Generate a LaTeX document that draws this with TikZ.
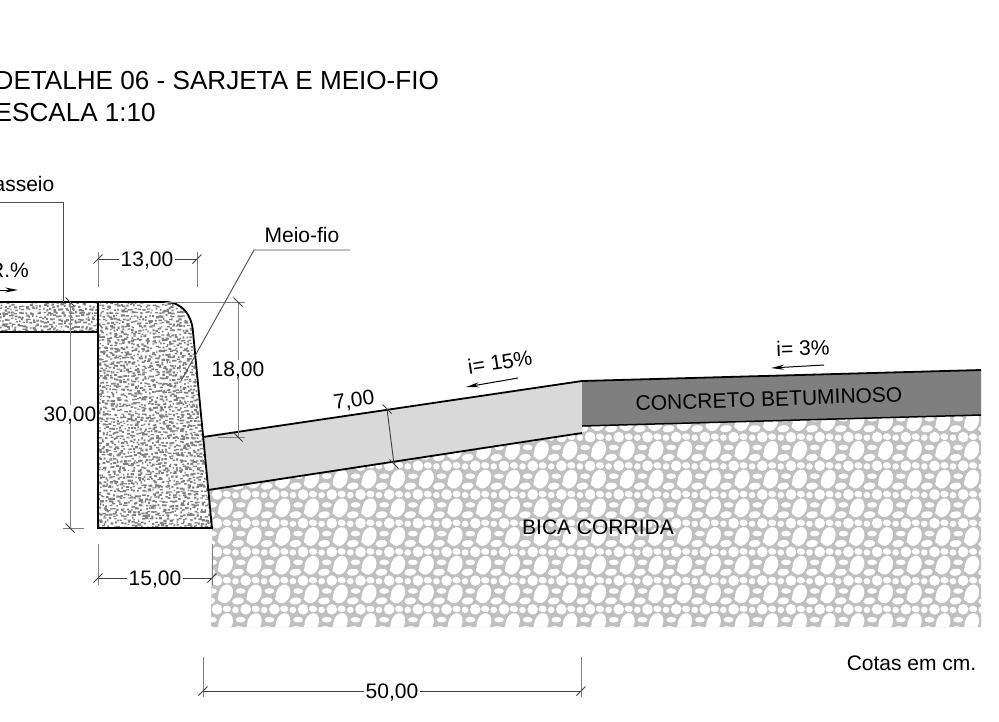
\documentclass[tikz,border=0pt]{standalone}
\usepackage{fontspec}
\setmainfont{Liberation Sans}
\usetikzlibrary{arrows.meta}
\definecolor{brita}{HTML}{C0C0C0}
\definecolor{guia}{HTML}{808080}
\definecolor{sarjeta}{HTML}{D9D9D9}
\definecolor{asfalto}{HTML}{7F7F7F}
\tikzset{
    rotulo/.style={inner sep=1.5pt,font=\fontsize{21}{25}\selectfont,text=black},
    numero/.style={rotulo,text depth=0pt},
    titulo/.style={inner sep=0pt,anchor=west,font=\fontsize{26.1}{30}\selectfont,text=black},
    perfil/.style={draw=black,line width=1.8pt,line join=miter},
    extensao/.style={draw=guia,line width=1pt},
    cota/.style={draw=black!75,line width=0.9pt},
    marca/.style={draw=black!75,line width=0.9pt},
    chamada/.style={draw=black!70,line width=0.9pt},
    caimento/.style={draw=black,line width=1pt,-{Stealth[length=13pt,width=5pt]}}
}
\begin{document}
\begin{tikzpicture}[x=1pt,y=-1pt]
    \useasboundingbox (0,0) rectangle (999,721);
    \fill[white] (0,0) rectangle (999,721);
    % pontos do perfil
    \coordinate (g1) at (203,437);
    \coordinate (g2) at (582,381);
    \coordinate (g3) at (582,433);
    \coordinate (g4) at (208,490);
    \coordinate (a1) at (981,370);
    \coordinate (a2) at (981,415);
    \coordinate (a3) at (582,426);
    \coordinate (c1) at (98,302);
    \coordinate (c2) at (212,528);
    \coordinate (c3) at (98,528);
    % brita
    \begin{scope}
        \clip (g4) -- (g3) -- (a3) -- (a2) -- (981,627) -- (211,627) -- (c2) -- cycle;
        \fill[brita] (200,370) rectangle (990,630);
        \foreach \ix in {0,...,27}
            \foreach \iy in {0,...,9}{
                \begin{scope}[shift={(197+\ix*28.7,393+\iy*28.7)}]
                    \fill[white] (0,0) ellipse[x radius=6.9,y radius=9.7,rotate=-20];
                    \fill[white] (20,15.4) circle (5.3);
                    \fill[white] (12.3,7) ellipse[x radius=6,y radius=3.4,rotate=8];
                    \fill[white] (15,-2.9) ellipse[x radius=4.9,y radius=2.8];
                    \fill[white] (1.2,15) ellipse[x radius=4.1,y radius=3.3,rotate=-10];
                    \fill[white] (9.8,16) ellipse[x radius=3.3,y radius=3.2];
                    \fill[white] (22.5,4.5) ellipse[x radius=1.8,y radius=2.4];
                \end{scope}
            }
    \end{scope}
    % sarjeta e concreto betuminoso
    \fill[sarjeta] (g1) -- (g2) -- (g3) -- (g4) -- cycle;
    \fill[asfalto] (g2) -- (a1) -- (a2) -- (a3) -- cycle;
    % guia e passeio
    \pgfmathsetseed{7}
    \begin{scope}
        \clip (c1) -- (165,302) .. controls (183,302) and (192,316) .. (193,332) -- (c2) -- (c3) -- (98,332) -- (-5,332) -- (-5,302) -- cycle;
        \fill[guia] \foreach \ix in {0,...,62}{
            \foreach \iy in {0,...,66}{
                (-4+\ix*3.5+3*rnd,300+\iy*3.5+3*rnd) rectangle ++(1.3+2.2*rnd,1.1+1.2*rnd)
            }
        };
    \end{scope}
    % linhas do perfil
    \draw[perfil] (c1) -- (165,302) .. controls (183,302) and (192,316) .. (193,332) -- (c2) -- (c3) -- cycle;
    \draw[perfil] (-5,302) -- (c1);
    \draw[perfil] (-5,332) -- (98,332);
    \draw[perfil] (g1) -- (g2) -- (a1);
    \draw[perfil] (g4) -- (g3);
    \draw[perfil,line width=1.5pt] (a3) -- (a2);
    % cotas
    \node[numero] (cota13) at (147,259) {13,00};
    \node[numero] (cota18) at (238,369) {18,00};
    \node[numero] (cota30) at (70,414) {30,00};
    \node[numero] (cota15) at (155,578) {15,00};
    \node[numero] (cota50) at (392,691) {50,00};
    \node[rotulo,rotate=8] (cota7) at (354,401) {7,00};
    \coordinate (p13a) at (98,259);
    \coordinate (p13b) at (197,259);
    \coordinate (p18a) at (238,302);
    \coordinate (p18b) at (238,437);
    \coordinate (p30a) at (70,302);
    \coordinate (p30b) at (70,528);
    \coordinate (p15a) at (98,578);
    \coordinate (p15b) at (212,578);
    \coordinate (p50a) at (203,691);
    \coordinate (p50b) at (581,691);
    \coordinate (p7a) at (387,409);
    \coordinate (p7b) at (394,464);
    \path[cota]
        (cota13) edge (p13a) (cota13) edge (p13b)
        (cota15) edge (p15a) (cota15) edge (p15b)
        (cota50) edge (p50a) (cota50) edge (p50b)
        (p7a) edge (p7b)
    ;
    \path[extensao]
        (cota18) edge (p18a) (cota18) edge (p18b)
        (cota30) edge (p30a) (cota30) edge (p30b)
        (98,252) edge (98,287) (197,252) edge (197,287)
        (98,544) edge (98,585) (212,544) edge (212,585)
        (203,657) edge (203,697) (581,657) edge (581,697)
        (165,302) edge (245,302) (218,437) edge (245,437) (63,528) edge (84,528)
    ;
    \foreach \p in {p13a,p13b,p15a,p15b,p50a,p50b}
        \draw[marca] (\p) ++(-4.5,4.5) -- ++(9,-9);
    \foreach \p in {p18a,p18b,p30a,p30b,p7a,p7b}
        \draw[marca] (\p) ++(-4.5,-4.5) -- ++(9,9);
    % chamadas
    \node[rotulo] (meiofio) at (302,235) {Meio-fio};
    \node[rotulo,anchor=east] (passeio) at (56,184) {Passeio};
    \coordinate (m1) at (350,250);
    \coordinate (m2) at (254,250);
    \coordinate (m3) at (181,381);
    \draw[chamada] (m1) -- (m2) -- (m3);
    \coordinate (s1) at (-5,202);
    \coordinate (s2) at (63,202);
    \coordinate (s3) at (63,302);
    \draw[chamada] (s1) -- (s2) -- (s3);
    % caimentos
    \node[rotulo,anchor=east] (ipasseio) at (30.5,270) {R.\%};
    \node[rotulo,rotate=9] (i15) at (500,362) {i= 15\%};
    \node[rotulo,rotate=2] (i3) at (803,348) {i= 3\%};
    \coordinate (f0a) at (-5,290);
    \coordinate (f0b) at (18,290);
    \coordinate (f15a) at (518,378);
    \coordinate (f15b) at (466,387);
    \coordinate (f3a) at (824,365);
    \coordinate (f3b) at (771,368);
    \draw[caimento] (f0a) -- (f0b);
    \draw[caimento] (f15a) -- (f15b);
    \draw[caimento] (f3a) -- (f3b);
    % textos
    \node[rotulo,rotate=2] (betuminoso) at (769,399) {CONCRETO BETUMINOSO};
    \node[rotulo] (bica) at (598,527) {BICA CORRIDA};
    \node[rotulo,anchor=east] (cotascm) at (978,663) {Cotas em cm.};
    \node[titulo] (tit1) at (-5.5,81) {DETALHE 06 - SARJETA E MEIO-FIO};
    \node[titulo] (tit2) at (-5.5,113) {ESCALA 1:10};
\end{tikzpicture}
\end{document}
